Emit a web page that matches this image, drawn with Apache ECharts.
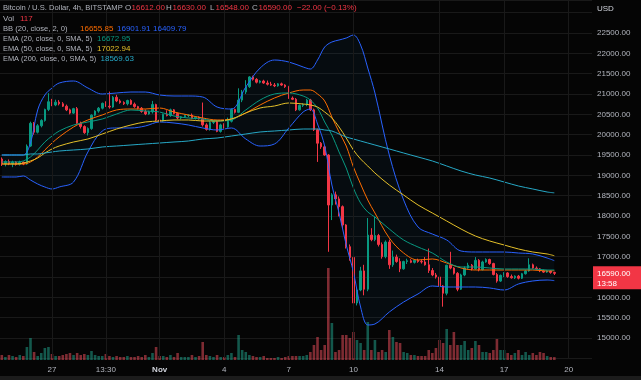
<!DOCTYPE html>
<html><head><meta charset="utf-8">
<script src="https://cdn.jsdelivr.net/npm/echarts@6/dist/echarts.min.js"></script>
<style>html,body{margin:0;padding:0;background:#050505;}#c{width:641px;height:380px;}</style>
</head><body><div id="c"></div>
<script>
const opens = [19400,19290,19340,19280,19330,19270,19320,19280,19720,20280,
20060,20220,20350,20620,20810,20730,20800,20760,20700,20610,
20530,20640,20280,20200,20050,20150,20480,20580,20650,20770,
20700,20680,20920,20830,20790,20760,20840,20750,20690,20650,
20570,20510,20560,20740,20360,20340,20500,20470,20610,20520,
20410,20440,20470,20480,20400,20430,20390,20240,20130,20300,
20320,20080,20240,20190,20330,20620,20550,20850,21050,21180,
21420,21360,21290,21320,21270,21240,21220,21200,21250,21220,
21180,20900,20870,20610,20720,20740,20850,20610,20120,19790,
19700,19500,18270,18520,18420,18230,17780,17245,16980,15860,
16180,16650,16200,17530,17420,17520,17300,17000,17360,16800,
16990,16880,16700,16880,16900,16860,16910,16880,16870,16800,
16660,16550,16500,16280,16100,16790,16720,16590,16200,16550,
16720,16790,16700,16910,16680,16870,16930,16830,16560,16400,
16540,16600,16510,16480,16520,16470,16580,16650,16800,16720,
16700,16650,16620,16650,16612];
const highs = [19440,19370,19390,19360,19350,19360,19340,19760,20320,20310,
20260,20380,20640,21020,20880,20860,20850,20800,20740,20640,
20660,20680,20320,20230,20180,20500,20600,20680,20790,20820,
21060,20950,20980,20870,20820,20860,20870,20790,20710,20680,
20620,20590,20830,20760,20400,20520,20600,20640,20630,20540,
20460,20490,20500,20520,20450,20450,20790,20280,20330,20340,
20340,20270,20280,20420,20650,20640,21140,21100,21340,21440,
21450,21390,21340,21350,21330,21300,21270,21270,21280,21240,
21200,20940,20900,20740,20770,20880,20880,20640,20150,19820,
19740,19520,18560,18600,18480,18260,17800,17300,17000,16250,
16750,16800,17950,17700,17980,17560,17350,17400,17420,17150,
17050,16960,16900,16950,16940,16930,16950,16930,16990,17200,
16720,16600,16520,16300,16800,17120,16740,16620,16580,16760,
16850,16820,16990,16940,16900,16960,16950,16850,16600,16560,
16620,16620,16560,16540,16550,16600,16680,16960,16830,16760,
16720,16680,16670,16660,16630];
const lows = [19230,19220,19250,19200,19240,19240,19250,19260,19700,20000,
20030,20180,20320,20580,20700,20700,20720,20680,20580,20500,
20510,20250,20150,20020,19980,20120,20450,20540,20620,20680,
20640,20660,20800,20760,20730,20720,20730,20660,20620,20540,
20480,20490,20520,20330,20310,20320,20450,20440,20500,20380,
20380,20410,20430,20380,20370,20370,20200,20100,20100,20260,
20060,20050,20150,20170,20300,20520,20530,20800,21000,21150,
21330,21260,21260,21250,21210,21200,21170,21180,21200,21150,
20880,20850,20580,20590,20680,20700,20580,20090,19330,19650,
19480,17120,17900,18280,17990,17700,17200,16900,15600,15800,
16150,16050,16150,17380,17380,17250,16950,16960,16700,16750,
16850,16620,16680,16820,16840,16830,16850,16830,16780,16600,
16520,16460,16220,15770,16050,16690,16560,16150,16180,16520,
16700,16660,16680,16640,16660,16850,16800,16540,16360,16380,
16500,16480,16460,16450,16440,16450,16560,16630,16700,16680,
16620,16600,16600,16580,16548];
const closes = [19290,19340,19280,19330,19270,19320,19280,19720,20280,20060,
20220,20350,20620,20810,20730,20800,20760,20700,20610,20530,
20640,20280,20200,20050,20150,20480,20580,20650,20770,20700,
20680,20920,20830,20790,20760,20840,20750,20690,20650,20570,
20510,20560,20740,20360,20340,20500,20470,20610,20520,20410,
20440,20470,20480,20400,20430,20390,20240,20130,20300,20320,
20080,20240,20190,20330,20620,20550,20850,21050,21180,21420,
21360,21290,21320,21270,21240,21220,21200,21250,21220,21180,
20900,20870,20610,20720,20740,20850,20610,20120,19790,19700,
19500,18270,18520,18420,18230,17780,17245,16980,15860,16180,
16650,16200,17530,17420,17520,17300,17000,17360,16800,16990,
16880,16700,16880,16900,16860,16910,16880,16870,16800,16660,
16550,16500,16280,16100,16790,16720,16590,16200,16550,16720,
16790,16700,16910,16680,16870,16930,16830,16560,16400,16540,
16600,16510,16480,16520,16470,16580,16650,16800,16720,16700,
16650,16620,16650,16612,16590];
const volumes = [200,120,200,160,120,200,160,520,880,320,
160,280,480,520,240,160,160,200,240,280,
200,280,200,240,200,360,200,160,160,240,
160,120,160,120,120,160,120,120,160,120,
200,120,280,520,160,160,120,200,120,280,
120,120,120,200,120,160,720,200,160,120,
200,120,120,200,280,120,1000,400,320,200,
160,120,120,160,80,80,80,120,80,120,
160,160,160,160,160,200,320,600,920,400,
600,3680,1480,320,400,1000,1000,880,1120,800,
680,400,1520,400,800,320,400,320,1200,920,
720,680,320,280,200,200,160,160,160,400,
280,480,800,680,1240,600,1120,600,600,760,
400,480,760,600,320,320,280,400,840,400,
400,280,200,280,400,200,320,200,280,200,
320,280,160,120,117];

const lineIdx = [0,4,6,8,10,12,14,16,20,24,28,32,36,40,44,48,52,56,60,64,68,72,76,80,84,86,88,90,92,94,96,98,100,102,104,108,112,116,120,124,128,132,136,140,144,148,152,154];
const bbUpper = [19500,19500,19500,19795,20607,20975,21148,21270,21320,21148,21000,21025,21049,21049,20975,20951,20951,20926,20680,20631,21172,21639,21836,21787,21664,21615,21836,22156,22279,22328,22377,22451,22205,21639,21025,19500,18394,17730,17557,17410,17139,17115,17115,17115,17090,17066,16967,16901.91];
const bbLower = [18959,18959,18984,18885,18787,18713,18664,18713,18836,19574,20090,20164,20164,20213,20312,20287,20238,20164,20115,20164,19894,19721,19771,20164,20557,20631,20262,19721,18762,18074,17287,16623,15762,15320,15344,15639,15885,16082,16279,16254,16254,16254,16230,16180,16328,16402,16426,16409.79];
const bbBasis = [19279,19279,19279,19328,19451,19623,19795,19943,20189,20361,20484,20607,20631,20631,20656,20557,20484,20410,20361,20385,20533,20730,20902,21025,21098,21098,21000,20828,20434,20066,19721,19205,18787,18394,18074,17459,17090,16918,16943,16844,16721,16672,16672,16672,16672,16672,16648,16655.85];
const ema20 = [19328,19328,19353,19451,19623,19820,19967,20090,20238,20312,20385,20508,20607,20582,20557,20459,20410,20385,20336,20361,20607,20852,21000,21025,20951,20852,20656,20312,19992,19574,19180,18689,18320,18098,17975,17680,17410,17238,17090,16869,16746,16746,16721,16697,16697,16697,16672,16672.95];
const ema50 = [19279,19279,19303,19353,19426,19549,19648,19721,19820,19894,20016,20139,20238,20312,20336,20361,20361,20336,20336,20385,20533,20656,20705,20779,20754,20730,20680,20557,20410,20189,19918,19623,19402,19230,19057,18762,18516,18271,18074,17877,17680,17508,17385,17287,17189,17115,17066,17022.94];
const ema200 = [19500,19500,19500,19525,19525,19549,19574,19598,19623,19648,19697,19721,19746,19771,19795,19820,19844,19894,19918,19967,20016,20066,20090,20115,20139,20139,20139,20115,20090,20016,19943,19894,19844,19795,19746,19648,19549,19451,19353,19230,19107,19008,18934,18836,18738,18664,18590,18569.63];

const tickIdx = [14,29,44,62,80,98,122,140,158];
const tickLabels = ['27','13:30','Nov','4','7','10','14','17','20'];
const slotCount = 165;
const countdown = '13:58';

const UP = '#089981', DN = '#F23645';
const cats = [];
for (let i = 0; i < slotCount; i++) cats.push('c' + i);
const tickMap = {};
tickIdx.forEach((k, j) => { tickMap[k] = tickLabels[j]; });

const candleData = opens.map((o, i) => [o, closes[i], lows[i], highs[i]]);
const volData = volumes.map((v, i) => ({
  value: v,
  itemStyle: { color: closes[i] >= opens[i] ? 'rgba(34,171,148,0.5)' : 'rgba(247,82,95,0.5)' }
}));
const pairs = arr => lineIdx.map((k, j) => [cats[k], arr[j]]);
const bbDiff = bbUpper.map((u, j) => u - bbLower[j]);

function lineSeries(name, arr, color) {
  return { name, type: 'line', xAxisIndex: 0, yAxisIndex: 0, data: pairs(arr), smooth: 0.35,
    symbol: 'none', lineStyle: { color, width: 1 }, z: 4, silent: true };
}

const chart = echarts.init(document.getElementById('c'), null, { renderer: 'canvas' });
const FONT = "'Liberation Sans', Arial, sans-serif";

chart.setOption({
  animation: false,
  backgroundColor: '#050505',
  grid: [
    { left: 0, right: 49, top: 0, height: 358.33 },
    { left: 0, right: 49, top: 260, height: 100 }
  ],
  xAxis: [
    { type: 'category', gridIndex: 0, data: cats, boundaryGap: true,
      axisLine: { show: false }, axisTick: { show: false }, axisLabel: { show: false }, splitLine: { show: false } },
    { type: 'category', gridIndex: 1, data: cats, boundaryGap: true,
      axisLine: { show: false }, axisTick: { show: false }, splitLine: { show: false },
      axisLabel: { show: true, interval: (idx) => tickMap[idx] !== undefined, margin: 6,
        fontSize: 8, fontFamily: FONT, color: '#B2B5BE',
        formatter: (v, idx) => { const t = tickMap[idx]; return t === 'Nov' ? '{b|Nov}' : t; },
        rich: { b: { fontSize: 8, fontFamily: FONT, fontWeight: 'bold', color: '#D1D4DC' } } } }
  ],
  yAxis: [
    { type: 'value', gridIndex: 0, position: 'right', min: 14500, max: 23311.5, interval: 500,
      axisLine: { show: false }, axisTick: { show: false },
      splitLine: { show: true, lineStyle: { color: '#191919', width: 1 } },
      axisLabel: { margin: 5, fontSize: 8, fontFamily: FONT, color: '#B2B5BE',
        formatter: v => (v >= 15000 && v <= 22500 && v % 500 === 0) ? v.toFixed(2) : '' } },
    { type: 'value', gridIndex: 1, min: 0, max: 4000, show: false }
  ],
  series: [
    { name: 'Vol', type: 'bar', xAxisIndex: 1, yAxisIndex: 1, data: volData, barWidth: 2.6, z: 1, silent: true },
    { name: 'bbBase', type: 'line', stack: 'bb', data: pairs(bbLower), smooth: 0.35, symbol: 'none',
      lineStyle: { opacity: 0 }, z: 1, silent: true },
    { name: 'bbFill', type: 'line', stack: 'bb', data: pairs(bbDiff), smooth: 0.35, symbol: 'none',
      lineStyle: { opacity: 0 }, areaStyle: { color: 'rgba(33,150,243,0.07)' }, z: 1, silent: true },
    { name: 'price', type: 'candlestick', xAxisIndex: 0, yAxisIndex: 0, data: candleData, barWidth: 2, z: 3,
      itemStyle: { color: UP, color0: DN, borderColor: UP, borderColor0: DN, borderWidth: 1 },
      markLine: { silent: true, symbol: 'none', label: { show: false },
        lineStyle: { color: '#191919', width: 1, type: 'solid' },
        data: tickIdx.map(k => ({ xAxis: cats[k] })) } },
    lineSeries('bbUpper', bbUpper, '#2962FF'),
    lineSeries('bbLower', bbLower, '#2962FF'),
    lineSeries('bbBasis', bbBasis, '#FF6D00'),
    lineSeries('ema20', ema20, '#089981'),
    lineSeries('ema50', ema50, '#E5C029'),
    lineSeries('ema200', ema200, '#26A8C6')
  ]
});

const n = closes.length - 1;
const f2 = v => v.toFixed(2);
const chg = closes[n] - closes[n - 1];
const chgTxt = (chg < 0 ? '\u2212' : '+') + Math.abs(chg).toFixed(2) + ' (' + (chg < 0 ? '\u2212' : '+') + Math.abs(chg / closes[n - 1] * 100).toFixed(2) + '%)';
const last = a => a[a.length - 1];
const LF = 8;
const TXT = '#B2B5BE';
// [text, color, x, lineIndex, fontSize]
const legendParts = [
  ['Bitcoin / U.S. Dollar, 4h, BITSTAMP', TXT, 3, 0, 7.6],
  ['O', TXT, 125, 0, LF], [f2(opens[n]), DN, 131.5, 0, LF],
  ['H', TXT, 166, 0, LF], [f2(highs[n]), DN, 172.5, 0, LF],
  ['L', TXT, 210, 0, LF], [f2(lows[n]), DN, 215.5, 0, LF],
  ['C', TXT, 252, 0, LF], [f2(closes[n]), DN, 258.5, 0, LF],
  [chgTxt, DN, 297, 0, LF],
  ['Vol', TXT, 3, 1, LF], [String(volumes[n]), DN, 20, 1, LF],
  ['BB (20, close, 2, 0)', TXT, 3, 2, 7.6], [f2(last(bbBasis)), '#FF6D00', 80, 2, LF],
  [f2(last(bbUpper)), '#2962FF', 117, 2, LF], [f2(last(bbLower)), '#2962FF', 153, 2, LF],
  ['EMA (20, close, 0, SMA, 5)', TXT, 3, 3, 7.4], [f2(last(ema20)), '#089981', 97, 3, LF],
  ['EMA (50, close, 0, SMA, 5)', TXT, 3, 4, 7.4], [f2(last(ema50)), '#E5C029', 97, 4, LF],
  ['EMA (200, close, 0, SMA, 5)', TXT, 3, 5, 7.4], [f2(last(ema200)), '#26A8C6', 100.5, 5, LF]
];
const lineY = [8, 19, 29, 39, 49, 59];
const graphics = legendParts.map(p => ({
  type: 'text', x: p[2], y: lineY[p[3]], z: 50, silent: true,
  style: { text: p[0], fontSize: p[4], fontFamily: FONT, fill: p[1], verticalAlign: 'middle' }
}));
const py = chart.convertToPixel({ yAxisIndex: 0 }, closes[n]);
graphics.push({ type: 'rect', z: 60, silent: true, shape: { x: 593, y: py - 7, width: 48, height: 23 }, style: { fill: DN } });
graphics.push({ type: 'text', z: 61, silent: true, x: 597, y: py, style: { text: f2(closes[n]), fill: '#ffffff', fontSize: 8, fontFamily: FONT, verticalAlign: 'middle' } });
graphics.push({ type: 'text', z: 61, silent: true, x: 597, y: py + 10, style: { text: countdown, fill: '#ffffff', fontSize: 8, fontFamily: FONT, verticalAlign: 'middle' } });
graphics.push({ type: 'text', z: 61, silent: true, x: 597, y: 9, style: { text: 'USD', fill: '#D1D4DC', fontSize: 8, fontFamily: FONT, verticalAlign: 'middle' } });
graphics.push({ type: 'rect', z: 0, silent: true, shape: { x: 0, y: 376, width: 641, height: 4 }, style: { fill: '#1c1c1c' } });
chart.setOption({ graphic: graphics });
</script>
</body></html>
